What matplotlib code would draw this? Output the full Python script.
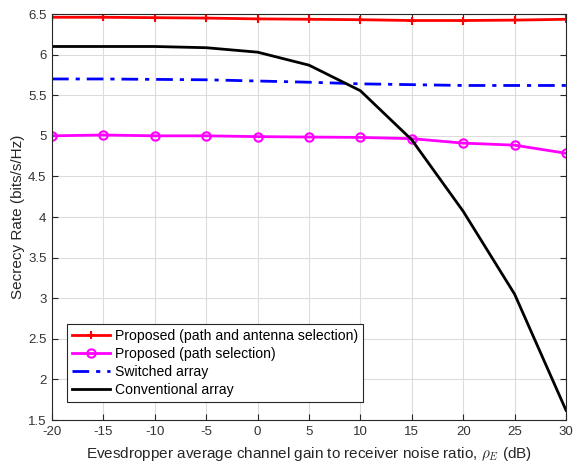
import numpy as np
import matplotlib
matplotlib.use('Agg')
import matplotlib.pyplot as plt

plt.rcParams['font.family'] = ['Liberation Sans', 'DejaVu Sans']
plt.rcParams['mathtext.fontset'] = 'cm'
plt.rcParams['axes.unicode_minus'] = False

# ----------------------------
# Datos
# ----------------------------
rho_e = [-20, -15, -10, -5, 0, 5, 10, 15, 20, 25, 30]
proposed_path_ant = [6.46, 6.46, 6.455, 6.45, 6.44, 6.435, 6.43, 6.42, 6.42, 6.425, 6.435]
proposed_path     = [5.00, 5.01, 5.00, 5.00, 4.99, 4.985, 4.98, 4.965, 4.91, 4.885, 4.785]
switched_array    = [5.70, 5.70, 5.695, 5.69, 5.675, 5.66, 5.64, 5.63, 5.62, 5.62, 5.62]
conventional      = [6.10, 6.10, 6.10, 6.085, 6.03, 5.87, 5.555, 4.95, 4.07, 3.05, 1.62]

fig = plt.figure(figsize=(5.73, 4.61), dpi=100)
ax = fig.add_axes([0.0908, 0.0889, 0.897, 0.8807])

ax.plot(rho_e, proposed_path_ant, '-+', color='#ff0000', lw=2, ms=6, mew=1.5,
        label='Proposed (path and antenna selection)')
ax.plot(rho_e, proposed_path, '-o', color='#ff00ff', lw=2, ms=6, mew=1.5,
        mfc='none', label='Proposed (path selection)')
ax.plot(rho_e, switched_array, color='#0000ff', lw=2,
        dashes=(6, 2.5, 1.5, 2.5), label='Switched array')
ax.plot(rho_e, conventional, '-', color='black', lw=2,
        label='Conventional array')

ax.set_xlim(-20, 30)
ax.set_ylim(1.5, 6.5)
ax.set_xticks(np.arange(-20, 31, 5))
ax.set_yticks(np.arange(1.5, 6.51, 0.5))
ax.set_yticklabels(['1.5', '2', '2.5', '3', '3.5', '4', '4.5', '5', '5.5', '6', '6.5'])
ax.tick_params(direction='in', labelsize=9.5, length=4, top=True, right=True,
               colors='#262626', labelcolor='#333333', pad=4)
ax.grid(color='#dcdcdc', lw=0.8)
for s in ax.spines.values():
    s.set_color('#262626')
    s.set_linewidth(0.8)

ax.set_xlabel(r'Evesdropper average channel gain to receiver noise ratio, $\rho_E$ (dB)',
              fontsize=11, labelpad=5, color='#262626')
ax.set_ylabel('Secrecy Rate (bits/s/Hz)', fontsize=11, labelpad=2, color='#262626')

leg = ax.legend(loc='lower left', bbox_to_anchor=(0.029, 0.044), fontsize=10.1,
                fancybox=False, framealpha=1, edgecolor='#262626',
                borderpad=0.35, labelspacing=0.3, handlelength=2.7,
                handletextpad=0.35, borderaxespad=0)
leg.get_frame().set_linewidth(0.8)

plt.savefig('out.png', dpi=100)
